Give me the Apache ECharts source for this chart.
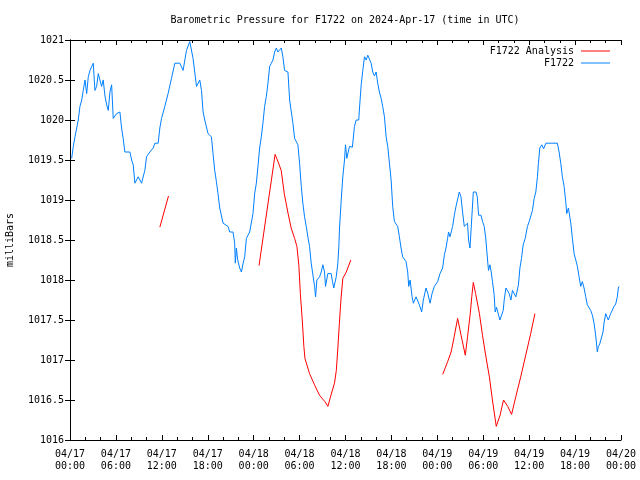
<!DOCTYPE html>
<html><head><meta charset="utf-8">
<script src="https://cdn.jsdelivr.net/npm/echarts@6/dist/echarts.min.js"></script>
<style>html,body{margin:0;padding:0;background:#fff}#c{width:640px;height:480px}</style>
</head><body><div id="c"></div>
<script>
// hours since 2024-04-17 00:00 UTC
const titleText = 'Barometric Pressure for F1722 on 2024-Apr-17 (time in UTC)';
const yName = 'milliBars';
const seriesNames = ['F1722 Analysis', 'F1722'];
const yTicks = [1016, 1016.5, 1017, 1017.5, 1018, 1018.5, 1019, 1019.5, 1020, 1020.5, 1021];

const stationHours = [0.22,0.43,0.65,1.08,1.30,1.53,1.73,1.96,2.18,2.39,2.61,3.04,3.26,3.48,3.69,3.91,4.13,4.34,4.57,4.79,5.0,5.22,5.44,5.65,6.09,6.52,6.74,6.95,7.17,7.83,8.05,8.26,8.48,8.91,9.35,9.78,10.0,10.43,10.87,11.09,11.52,11.74,11.96,12.39,12.82,13.26,13.70,14.35,14.78,15.22,15.65,15.87,16.08,16.53,16.96,17.18,17.39,17.61,18.04,18.48,18.69,18.91,19.13,19.34,19.57,20.0,20.65,20.87,21.30,21.52,21.6,21.74,21.9,22.17,22.40,22.6,22.83,23.05,23.48,23.91,24.13,24.35,24.56,24.78,25.0,25.21,25.43,25.65,25.87,26.09,26.31,26.52,26.74,26.96,27.17,27.39,27.61,27.82,28.04,28.48,28.70,28.92,29.13,29.35,29.78,30.0,30.22,30.43,30.65,30.87,31.08,31.30,31.52,31.96,32.09,32.26,32.61,32.83,33.04,33.26,33.39,33.69,34.13,34.3,34.47,34.79,35.0,35.13,35.22,35.44,35.65,35.87,36.0,36.17,36.52,36.9,37.17,37.39,37.73,37.83,38.05,38.26,38.48,38.7,38.91,39.13,39.35,39.56,39.78,40.0,40.21,40.43,40.66,40.86,41.09,41.31,41.52,41.74,41.96,42.17,42.39,42.82,43.04,43.26,43.47,43.91,44.13,44.26,44.44,44.70,44.87,45.22,45.65,45.95,46.17,46.52,46.76,47.05,47.31,47.61,48.04,48.35,48.69,48.91,49.13,49.34,49.47,49.65,49.83,50.0,50.22,50.44,50.65,50.87,51.09,51.30,51.52,51.74,51.95,52.08,52.27,52.53,52.70,53.05,53.22,53.39,53.70,53.91,54.13,54.35,54.56,54.69,54.87,55.04,55.21,55.43,55.56,55.73,55.99,56.18,56.44,56.61,56.74,56.96,57.17,57.39,57.61,57.82,58.26,58.43,58.60,58.79,59.0,59.22,59.48,59.78,60.0,60.43,60.65,60.87,61.08,61.21,61.39,61.65,61.89,62.18,63.69,63.91,64.13,64.34,64.57,64.78,64.91,65.13,65.44,65.65,65.87,66.09,66.30,66.52,66.74,66.95,67.17,67.39,67.60,68.04,68.26,68.48,68.69,68.91,69.04,69.22,69.48,69.65,69.78,70.0,70.17,70.34,70.52,70.65,70.86,71.09,71.31,71.52,71.65,71.74];
const stationValues = [1019.52,1019.67,1019.79,1020.0,1020.17,1020.25,1020.37,1020.5,1020.33,1020.54,1020.62,1020.71,1020.37,1020.42,1020.58,1020.6,1020.42,1020.5,1020.3,1020.19,1020.12,1020.35,1020.44,1020.02,1020.08,1020.1,1019.9,1019.77,1019.6,1019.6,1019.5,1019.44,1019.21,1019.29,1019.21,1019.37,1019.54,1019.6,1019.65,1019.71,1019.71,1019.9,1020.02,1020.17,1020.33,1020.52,1020.71,1020.71,1020.62,1020.87,1020.98,1021.0,1020.77,1020.42,1020.5,1020.37,1020.1,1020.0,1019.83,1019.79,1019.58,1019.37,1019.23,1019.08,1018.9,1018.71,1018.67,1018.6,1018.6,1018.46,1018.21,1018.4,1018.26,1018.15,1018.1,1018.2,1018.29,1018.52,1018.6,1018.83,1019.08,1019.21,1019.42,1019.65,1019.79,1019.96,1020.17,1020.29,1020.46,1020.67,1020.71,1020.75,1020.85,1020.9,1020.85,1020.83,1020.9,1020.79,1020.62,1020.6,1020.25,1020.1,1019.96,1019.77,1019.69,1019.46,1019.17,1018.96,1018.79,1018.67,1018.54,1018.42,1018.21,1017.92,1017.79,1018.0,1018.04,1018.1,1018.19,1018.1,1017.92,1018.08,1018.08,1017.98,1017.9,1018.04,1018.21,1018.42,1018.65,1019.0,1019.29,1019.5,1019.69,1019.52,1019.67,1019.66,1019.92,1020.0,1020.0,1020.15,1020.44,1020.62,1020.79,1020.75,1020.81,1020.81,1020.71,1020.6,1020.55,1020.6,1020.46,1020.35,1020.27,1020.17,1020.04,1019.79,1019.67,1019.46,1019.25,1018.92,1018.73,1018.67,1018.54,1018.4,1018.29,1018.23,1018.1,1017.92,1018.0,1017.79,1017.71,1017.79,1017.69,1017.6,1017.75,1017.9,1017.83,1017.71,1017.83,1017.92,1017.98,1018.08,1018.15,1018.31,1018.4,1018.52,1018.6,1018.54,1018.52,1018.67,1018.81,1018.92,1018.92,1019.1,1019.04,1018.85,1018.67,1018.65,1018.71,1018.5,1018.4,1018.4,1019.1,1019.1,1019.04,1018.81,1018.81,1018.73,1018.67,1018.5,1018.25,1018.12,1018.19,1018.1,1017.98,1017.81,1017.6,1017.66,1017.66,1017.5,1017.5,1017.62,1017.75,1017.9,1017.9,1017.83,1017.75,1017.87,1017.79,1017.79,1017.94,1018.15,1018.27,1018.44,1018.52,1018.67,1018.73,1018.87,1019.02,1019.1,1019.29,1019.46,1019.65,1019.69,1019.64,1019.71,1019.71,1019.6,1019.46,1019.29,1019.17,1018.98,1018.83,1018.9,1018.71,1018.52,1018.33,1018.25,1018.17,1018.04,1017.92,1017.98,1017.9,1017.79,1017.69,1017.62,1017.56,1017.46,1017.31,1017.1,1017.17,1017.2,1017.21,1017.35,1017.46,1017.58,1017.54,1017.5,1017.5,1017.58,1017.6,1017.67,1017.7,1017.79,1017.9,1017.92];

// analysis: null marks a gap
const analysisHours = [11.74,12.87,12.9, 24.7,26.8,27.1,27.6,28.0,28.5,28.9,29.35,29.65,29.9,30.1,30.35,30.56,30.7,31.3,31.95,32.6,33.3,33.7,34.1,34.56,34.8,35.0,35.2,35.4,35.65,36.1,36.7,36.8, 48.7,49.35,49.8,50.2,50.65,51.1,51.65,51.95,52.3,52.5,52.7,53.0,53.5,53.9,54.35,54.8,55.2,55.7,56.2,56.65,57.2,57.7,58.25,58.9,59.55,60.2,60.75];
const analysisValues = [1018.66,1019.05,null, 1018.18,1019.57,1019.5,1019.37,1019.08,1018.83,1018.65,1018.52,1018.42,1018.19,1017.83,1017.5,1017.17,1017.02,1016.83,1016.69,1016.56,1016.48,1016.42,1016.56,1016.71,1016.87,1017.15,1017.46,1017.75,1018.02,1018.1,1018.25,null, 1016.82,1016.98,1017.1,1017.29,1017.52,1017.31,1017.06,1017.29,1017.58,1017.79,1017.97,1017.83,1017.58,1017.31,1017.04,1016.79,1016.5,1016.17,1016.31,1016.5,1016.42,1016.32,1016.54,1016.79,1017.06,1017.33,1017.58];

const FONT = 'DejaVu Sans Mono';
function fmtX(h) {
  const d = 17 + Math.floor(h / 24);
  const hh = h % 24;
  return '04/' + d + '\n' + String(hh).padStart(2, '0') + ':00';
}
const zip = (a, b) => a.map((x, i) => [x, b[i] === null ? '-' : b[i]]);

const chart = echarts.init(document.getElementById('c'), null, {renderer: 'canvas'});
const axisCommon = {
  axisLine: {show: true, lineStyle: {color: '#000', width: 1}},
  axisTick: {show: true, inside: true, length: 5, lineStyle: {color: '#000'}},
  splitLine: {show: false},
};
const legendCommon = {
  right: 30, padding: 0, align: 'right', itemWidth: 29, itemHeight: 1, icon: 'rect',
  textStyle: {fontFamily: FONT, fontSize: 10, color: '#000', padding: [0, 2, 0, 0]}
};
chart.setOption({
  animation: false,
  backgroundColor: '#fff',
  title: {
    text: titleText, left: 345, top: 15, textAlign: 'center', padding: 0,
    textStyle: {fontFamily: FONT, fontSize: 10, fontWeight: 'normal', color: '#000'}
  },
  legend: [
    Object.assign({}, legendCommon, {data: [seriesNames[0]], top: 46}),
    Object.assign({}, legendCommon, {data: [seriesNames[1]], top: 58})
  ],
  grid: {left: 70, right: 19, top: 40, bottom: 40, containLabel: false, outerBoundsMode: 'none'},
  xAxis: [
    Object.assign({}, axisCommon, {
      type: 'value', min: 0, max: 72, interval: 6, position: 'bottom',
      minorTick: {show: true, splitNumber: 3, length: 3, lineStyle: {color: '#000'}},
      axisLabel: {formatter: fmtX, fontFamily: FONT, fontSize: 10, color: '#000', lineHeight: 12, margin: 8,
                  showMinLabel: true, showMaxLabel: true}
    }),
    Object.assign({}, axisCommon, {
      type: 'value', min: 0, max: 72, interval: 6, position: 'top',
      minorTick: {show: true, splitNumber: 3, length: 3, lineStyle: {color: '#000'}},
      axisLabel: {show: false}
    })
  ],
  yAxis: [
    Object.assign({}, axisCommon, {
      type: 'value', min: yTicks[0], max: yTicks[yTicks.length - 1], interval: 0.5, position: 'left',
      name: yName, nameLocation: 'middle', nameGap: 55, nameRotate: 90,
      nameTextStyle: {fontFamily: FONT, fontSize: 10, color: '#000'},
      axisLabel: {formatter: v => String(v), fontFamily: FONT, fontSize: 10, color: '#000', margin: 6}
    }),
    Object.assign({}, axisCommon, {
      type: 'value', min: yTicks[0], max: yTicks[yTicks.length - 1], interval: 0.5, position: 'right',
      axisLabel: {show: false}
    })
  ],
  series: [
    {name: seriesNames[0], type: 'line', data: zip(analysisHours, analysisValues), symbol: 'none',
     connectNulls: false, lineStyle: {color: '#ff0000', width: 1}, itemStyle: {color: '#ff0000'}, z: 3},
    {name: seriesNames[1], type: 'line', data: zip(stationHours, stationValues), symbol: 'none',
     lineStyle: {color: '#0080ff', width: 1}, itemStyle: {color: '#0080ff'}, z: 2}
  ]
});
</script>
</body></html>
